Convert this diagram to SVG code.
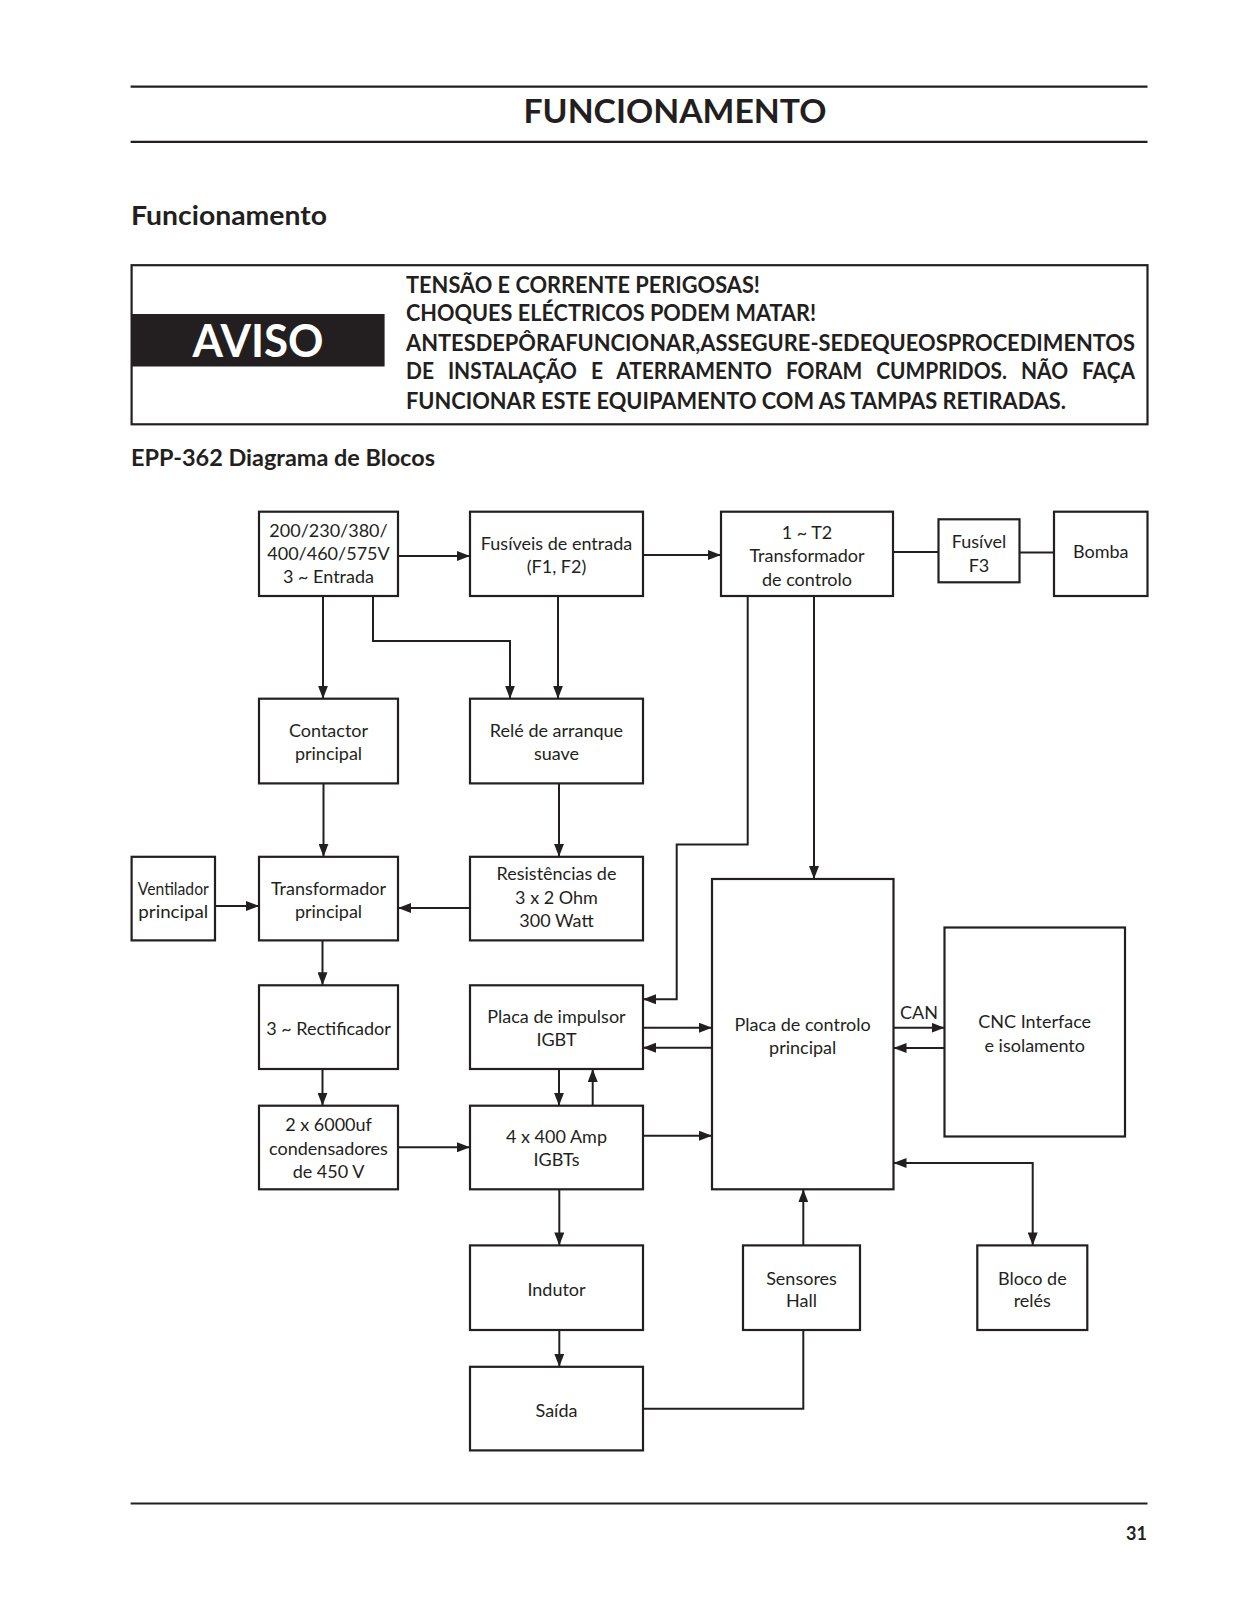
<svg xmlns="http://www.w3.org/2000/svg" width="1237" height="1600" viewBox="0 0 1237 1600">
<style>
.bg{fill:#ffffff}
.rule{stroke:#231f20;stroke-width:2.2;fill:none}
.box{fill:#ffffff;stroke:#231f20;stroke-width:2.2}
.t{font-family:Lato,"Liberation Sans",Arial,sans-serif;font-size:18px;fill:#231f20;text-anchor:middle}
.h{font-family:Lato,"Liberation Sans",Arial,sans-serif;font-weight:bold;fill:#231f20}
.w{font-family:Lato,"Liberation Sans",Arial,sans-serif;font-weight:bold;font-size:23.5px;fill:#231f20}
.c{stroke:#231f20;stroke-width:2;fill:none}
.a{marker-end:url(#arr)}
</style>
<defs>
<marker id="arr" viewBox="0 0 13 10" refX="13" refY="5" markerWidth="13" markerHeight="10" markerUnits="userSpaceOnUse" orient="auto-start-reverse">
<path d="M0,0 L13,5 L0,10 z" fill="#231f20"/>
</marker>
</defs>
<rect class="bg" x="0" y="0" width="1237" height="1600"/>

<g id="header">
<line class="rule" x1="130.6" y1="86.7" x2="1147.5" y2="86.7"/>
<text class="h" x="675" y="123" font-size="32" text-anchor="middle" textLength="303" lengthAdjust="spacingAndGlyphs">FUNCIONAMENTO</text>
<line class="rule" x1="130.6" y1="141.8" x2="1147.5" y2="141.8"/>
<text class="h" x="131" y="224.5" font-size="26" textLength="196" lengthAdjust="spacingAndGlyphs">Funcionamento</text>
</g>

<g id="warning">
<rect x="131.6" y="265.2" width="1015.9" height="159.1" fill="none" stroke="#231f20" stroke-width="2.2"/>
<rect x="131.6" y="314" width="253" height="52.5" fill="#231f20"/>
<text class="h" x="258" y="357" font-size="46" style="fill:#ffffff" text-anchor="middle" textLength="131" lengthAdjust="spacingAndGlyphs">AVISO</text>
<text class="w" x="406" y="292.7" textLength="354" lengthAdjust="spacingAndGlyphs">TENSÃO E CORRENTE PERIGOSAS!</text>
<text class="w" x="406" y="321.3" textLength="410" lengthAdjust="spacingAndGlyphs">CHOQUES ELÉCTRICOS PODEM MATAR!</text>
<text class="w" x="406" y="350.9" textLength="729" lengthAdjust="spacingAndGlyphs">ANTESDEPÔRAFUNCIONAR,ASSEGURE-SEDEQUEOSPROCEDIMENTOS</text>
<text class="w" x="406" y="379.4" word-spacing="10" textLength="729" lengthAdjust="spacingAndGlyphs">DE INSTALAÇÃO E ATERRAMENTO FORAM CUMPRIDOS. NÃO FAÇA</text>
<text class="w" x="406" y="409" textLength="660" lengthAdjust="spacingAndGlyphs">FUNCIONAR ESTE EQUIPAMENTO COM AS TAMPAS RETIRADAS.</text>
</g>

<text class="h" x="131" y="466" font-size="22.5" textLength="304" lengthAdjust="spacingAndGlyphs">EPP-362 Diagrama de Blocos</text>

<g id="connectors">
<path class="c a" d="M398,556 H470"/>
<path class="c a" d="M643,555 H721"/>
<path class="c" d="M893,552 H938"/>
<path class="c" d="M1019,552.5 H1054"/>
<path class="c a" d="M323,596 V698.7"/>
<path class="c a" d="M373,596 V641 H510 V698.7"/>
<path class="c a" d="M558,596 V698.7"/>
<path class="c a" d="M323.5,783.4 V856.8"/>
<path class="c a" d="M559,783.4 V856.8"/>
<path class="c a" d="M215,906 H259"/>
<path class="c a" d="M470,908 H398"/>
<path class="c a" d="M322.5,940.4 V985.3"/>
<path class="c a" d="M322.5,1069 V1105.7"/>
<path class="c a" d="M398,1147.3 H470"/>
<path class="c a" d="M747.7,596 V844.6 H676.7 V999.3 H643"/>
<path class="c a" d="M814,596 V879"/>
<path class="c a" d="M643,1027.7 H712"/>
<path class="c a" d="M712,1047.7 H643"/>
<path class="c a" d="M559,1069 V1105.7"/>
<path class="c a" d="M592.7,1105.7 V1069"/>
<path class="c a" d="M643,1135.7 H712"/>
<path class="c a" d="M893.5,1027.7 H944.5"/>
<text class="t" x="919" y="1019">CAN</text>
<path class="c a" d="M944.5,1048 H893.5"/>
<path class="c a" d="M893.5,1163 H1032.7 V1245.4" style="marker-start:url(#arr)"/>
<path class="c a" d="M559.3,1189.3 V1245.4"/>
<path class="c a" d="M559.3,1330 V1366.8"/>
<path class="c" d="M643,1408.7 H803.3 V1330"/>
<path class="c a" d="M803.3,1245.4 V1189.3"/>
</g>

<g id="n-entrada">
<rect class="box" x="259" y="511.7" width="139" height="84.3"/>
<text class="t" x="328.5" y="536.5">200/230/380/</text>
<text class="t" x="328.5" y="559.5">400/460/575V</text>
<text class="t" x="328.5" y="582.5">3 ~ Entrada</text>
</g>
<g id="n-fusiveis">
<rect class="box" x="470" y="511.7" width="173" height="84.3"/>
<text class="t" x="556.5" y="550">Fusíveis de entrada</text>
<text class="t" x="556.5" y="573">(F1, F2)</text>
</g>
<g id="n-t2">
<rect class="box" x="721" y="511.7" width="172" height="84.3"/>
<text class="t" x="807" y="539">1 ~ T2</text>
<text class="t" x="807" y="562.3">Transformador</text>
<text class="t" x="807" y="585.5">de controlo</text>
</g>
<g id="n-f3">
<rect class="box" x="938.5" y="519.3" width="81" height="63"/>
<text class="t" x="979" y="548.3">Fusível</text>
<text class="t" x="979" y="571.7">F3</text>
</g>
<g id="n-bomba">
<rect class="box" x="1054" y="511.7" width="93.5" height="84.3"/>
<text class="t" x="1100.7" y="558.3">Bomba</text>
</g>
<g id="n-contactor">
<rect class="box" x="259" y="698.7" width="139" height="84.7"/>
<text class="t" x="328.5" y="736.5">Contactor</text>
<text class="t" x="328.5" y="760">principal</text>
</g>
<g id="n-rele">
<rect class="box" x="470" y="698.7" width="173" height="84.7"/>
<text class="t" x="556.5" y="736.5">Relé de arranque</text>
<text class="t" x="556.5" y="760">suave</text>
</g>
<g id="n-ventilador">
<rect class="box" x="131.6" y="856.8" width="83.4" height="83.6"/>
<text class="t" x="173.3" y="894.5" textLength="71" lengthAdjust="spacingAndGlyphs">Ventilador</text>
<text class="t" x="173.3" y="918" textLength="70" lengthAdjust="spacingAndGlyphs">principal</text>
</g>
<g id="n-transformador">
<rect class="box" x="259" y="856.8" width="139" height="83.6"/>
<text class="t" x="328.5" y="894.5">Transformador</text>
<text class="t" x="328.5" y="918">principal</text>
</g>
<g id="n-resistencias">
<rect class="box" x="470" y="856.8" width="173" height="83.6"/>
<text class="t" x="556.5" y="880">Resistências de</text>
<text class="t" x="556.5" y="903.5">3 x 2 Ohm</text>
<text class="t" x="556.5" y="927">300 Watt</text>
</g>
<g id="n-rectificador">
<rect class="box" x="259" y="985.3" width="139" height="83.7"/>
<text class="t" x="328.5" y="1035">3 ~ Rectificador</text>
</g>
<g id="n-impulsor">
<rect class="box" x="470" y="985.3" width="173" height="83.7"/>
<text class="t" x="556.5" y="1023">Placa de impulsor</text>
<text class="t" x="556.5" y="1046">IGBT</text>
</g>
<g id="n-controlo">
<rect class="box" x="712" y="879" width="181.5" height="310.3"/>
<text class="t" x="802.7" y="1031">Placa de controlo</text>
<text class="t" x="802.7" y="1053.5">principal</text>
</g>
<g id="n-cnc">
<rect class="box" x="944.5" y="927.5" width="180.5" height="209"/>
<text class="t" x="1034.7" y="1028">CNC Interface</text>
<text class="t" x="1034.7" y="1051.5">e isolamento</text>
</g>
<g id="n-condensadores">
<rect class="box" x="259" y="1105.7" width="139" height="83.6"/>
<text class="t" x="328.5" y="1131">2 x 6000uf</text>
<text class="t" x="328.5" y="1154.5">condensadores</text>
<text class="t" x="328.5" y="1178">de 450 V</text>
</g>
<g id="n-igbts">
<rect class="box" x="470" y="1105.7" width="173" height="83.6"/>
<text class="t" x="556.5" y="1143">4 x 400 Amp</text>
<text class="t" x="556.5" y="1166">IGBTs</text>
</g>
<g id="n-indutor">
<rect class="box" x="470" y="1245.4" width="173" height="84.6"/>
<text class="t" x="556.5" y="1296">Indutor</text>
</g>
<g id="n-sensores">
<rect class="box" x="743" y="1245.4" width="117" height="84.6"/>
<text class="t" x="801.5" y="1285">Sensores</text>
<text class="t" x="801.5" y="1307.3">Hall</text>
</g>
<g id="n-bloco">
<rect class="box" x="977.3" y="1245.4" width="110" height="84.6"/>
<text class="t" x="1032.3" y="1285">Bloco de</text>
<text class="t" x="1032.3" y="1307.3">relés</text>
</g>
<g id="n-saida">
<rect class="box" x="470" y="1366.8" width="173" height="83.6"/>
<text class="t" x="556.5" y="1416.5">Saída</text>
</g>

<g id="footer">
<line class="rule" x1="130.6" y1="1503.5" x2="1147.5" y2="1503.5"/>
<text class="h" x="1147" y="1540" font-size="18" text-anchor="end">31</text>
</g>
</svg>
